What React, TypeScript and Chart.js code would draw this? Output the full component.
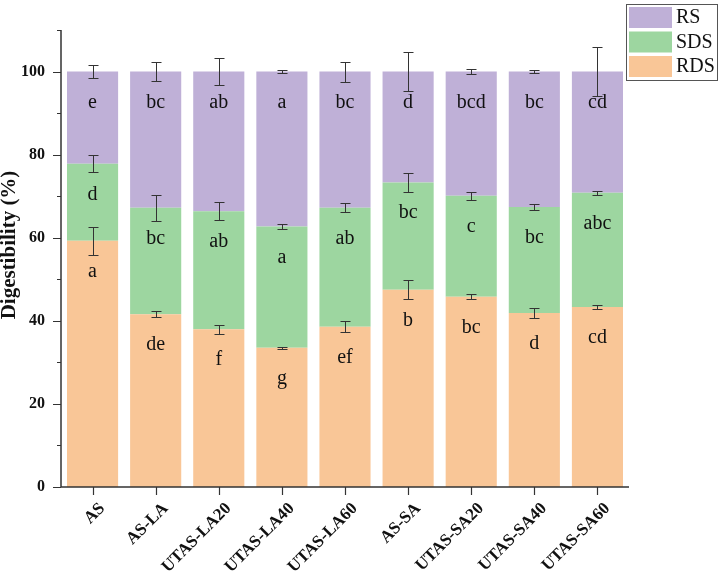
import React, { useEffect, useRef } from "react";
import { Chart, registerables } from "chart.js";

Chart.register(...registerables);

const categories = ["AS", "AS-LA", "UTAS-LA20", "UTAS-LA40", "UTAS-LA60", "AS-SA", "UTAS-SA20", "UTAS-SA40", "UTAS-SA60"];
const rdsValues = [59.3, 41.6, 38.0, 33.5, 38.6, 47.5, 45.8, 41.9, 43.3];
const sdsValues = [18.5, 25.6, 28.4, 29.2, 28.6, 25.8, 24.3, 25.5, 27.5];
const rsValues = [22.2, 32.8, 33.6, 37.3, 32.8, 26.7, 29.9, 32.6, 29.2];
const rdsErrors = [3.4, 0.8, 1.1, 0.3, 1.3, 2.3, 0.6, 1.2, 0.55];
const sdsErrors = [2.0, 3.1, 2.2, 0.7, 1.1, 2.3, 1.0, 0.8, 0.5];
const rsErrors = [1.6, 2.3, 3.2, 0.35, 2.4, 4.6, 0.5, 0.4, 5.8];
const rdsLetters = ["a", "de", "f", "g", "ef", "b", "bc", "d", "cd"];
const sdsLetters = ["d", "bc", "ab", "a", "ab", "bc", "c", "bc", "abc"];
const rsLetters = ["e", "bc", "ab", "a", "bc", "d", "bcd", "bc", "cd"];
const yTickValues = [0, 20, 40, 60, 80, 100];
const yAxisTitle = "Digestibility (%)";

const COLORS = { RDS: "#f9c697", SDS: "#9dd6a0", RS: "#bfb0d7" };
const SERIF = "'Liberation Serif', 'Times New Roman', serif";

const errorsBy = [rdsErrors, sdsErrors, rsErrors];
const lettersBy = [rdsLetters, sdsLetters, rsLetters];

const overlayPlugin = {
  id: "overlay",
  afterDatasetsDraw(chart: any) {
    const ctx = chart.ctx;
    const y = chart.scales.y;
    const x = chart.scales.x;
    const area = chart.chartArea;
    ctx.save();
    // error bars and letters
    const cum = categories.map(() => 0);
    chart.data.datasets.forEach((ds: any, di: number) => {
      const meta = chart.getDatasetMeta(di);
      meta.data.forEach((bar: any, j: number) => {
        cum[j] += ds.data[j];
        const top = cum[j];
        const e = errorsBy[di][j];
        const y1 = Math.round(y.getPixelForValue(top + e)) + 0.5;
        const y2 = Math.round(y.getPixelForValue(top - e)) + 0.5;
        const bx = Math.round(bar.x) + 0.5;
        ctx.strokeStyle = "#333";
        ctx.lineWidth = 1;
        ctx.beginPath();
        ctx.moveTo(bx, y1);
        ctx.lineTo(bx, y2);
        ctx.moveTo(bx - 5, y1);
        ctx.lineTo(bx + 5, y1);
        ctx.moveTo(bx - 5, y2);
        ctx.lineTo(bx + 5, y2);
        ctx.stroke();
        ctx.fillStyle = "#111";
        ctx.font = `20px ${SERIF}`;
        ctx.textAlign = "center";
        ctx.textBaseline = "middle";
        ctx.fillText(lettersBy[di][j], bar.x, y.getPixelForValue(top - 7.4));
      });
    });
    // axes
    ctx.strokeStyle = "#333";
    ctx.lineWidth = 1.5;
    ctx.beginPath();
    ctx.moveTo(area.left, area.top);
    ctx.lineTo(area.left, area.bottom);
    ctx.lineTo(area.right, area.bottom);
    ctx.stroke();
    ctx.lineWidth = 1.2;
    ctx.beginPath();
    for (let v = 0; v <= 110; v += 10) {
      const py = Math.round(y.getPixelForValue(v)) + 0.5;
      const len = v % 20 === 0 ? 8 : 4;
      ctx.moveTo(area.left - len, py);
      ctx.lineTo(area.left, py);
    }
    categories.forEach((_, i) => {
      const px = Math.round(x.getPixelForValue(i)) + 0.5;
      ctx.moveTo(px, area.bottom);
      ctx.lineTo(px, area.bottom + 8);
    });
    ctx.stroke();
    // x tick labels (rotated)
    ctx.fillStyle = "#111";
    ctx.font = `bold 17px ${SERIF}`;
    ctx.textAlign = "right";
    ctx.textBaseline = "alphabetic";
    categories.forEach((c, i) => {
      const px = x.getPixelForValue(i);
      ctx.save();
      ctx.translate(px + 13, area.bottom + 22);
      ctx.rotate(-Math.PI / 4);
      ctx.fillText(c, 0, 0);
      ctx.restore();
    });
    // y axis title
    ctx.save();
    ctx.font = `bold 21px ${SERIF}`;
    ctx.textAlign = "center";
    ctx.textBaseline = "middle";
    ctx.translate(10, 245);
    ctx.rotate(-Math.PI / 2);
    ctx.fillText(yAxisTitle, 0, 0);
    ctx.restore();
    // legend
    const lx = 626, ly = 4, lw = 91, lh = 76;
    ctx.fillStyle = "#fff";
    ctx.fillRect(lx, ly, lw, lh);
    ctx.strokeStyle = "#555";
    ctx.lineWidth = 1;
    ctx.strokeRect(lx + 0.5, ly + 0.5, lw, lh);
    const items = [
      { label: "RS", color: COLORS.RS, y0: 7 },
      { label: "SDS", color: COLORS.SDS, y0: 31.5 },
      { label: "RDS", color: COLORS.RDS, y0: 56 },
    ];
    items.forEach((it) => {
      ctx.fillStyle = it.color;
      ctx.fillRect(629, it.y0, 43, 21);
      ctx.fillStyle = "#111";
      ctx.font = `20px ${SERIF}`;
      ctx.textAlign = "left";
      ctx.textBaseline = "middle";
      ctx.fillText(it.label, 676, it.y0 + 11);
    });
    ctx.restore();
  },
};

export default function App() {
  const ref = useRef<HTMLCanvasElement>(null);
  useEffect(() => {
    if (!ref.current) return;
    const chart = new Chart(ref.current, {
      type: "bar",
      data: {
        labels: categories,
        datasets: [
          { label: "RDS", data: rdsValues, backgroundColor: COLORS.RDS },
          { label: "SDS", data: sdsValues, backgroundColor: COLORS.SDS },
          { label: "RS", data: rsValues, backgroundColor: COLORS.RS },
        ],
      },
      options: {
        animation: false,
        responsive: false,
        maintainAspectRatio: false,
        layout: { padding: { left: 0, top: 30, right: 92, bottom: 0 } },
        datasets: { bar: { categoryPercentage: 1, barPercentage: 0.81 } },
        plugins: { legend: { display: false }, tooltip: { enabled: false } },
        scales: {
          x: {
            stacked: true,
            grid: { display: false, drawTicks: false },
            border: { display: false },
            ticks: { display: false },
            afterFit: (s: any) => {
              s.height = 85;
            },
          },
          y: {
            stacked: true,
            min: 0,
            max: 110,
            grid: { display: false, drawTicks: false },
            border: { display: false },
            afterBuildTicks: (s: any) => {
              s.ticks = yTickValues.map((v) => ({ value: v }));
            },
            ticks: {
              color: "#111",
              font: { family: SERIF, size: 16, weight: "bold" },
              padding: 16,
            },
            afterFit: (s: any) => {
              s.width = 61;
            },
          },
        },
      },
      plugins: [overlayPlugin],
    });
    return () => chart.destroy();
  }, []);
  return (
    <div style={{ position: "fixed", left: 0, top: 0, width: 721, height: 572, background: "#fff" }}>
      <canvas ref={ref} width={721} height={572} style={{ width: 721, height: 572, display: "block" }} />
    </div>
  );
}
